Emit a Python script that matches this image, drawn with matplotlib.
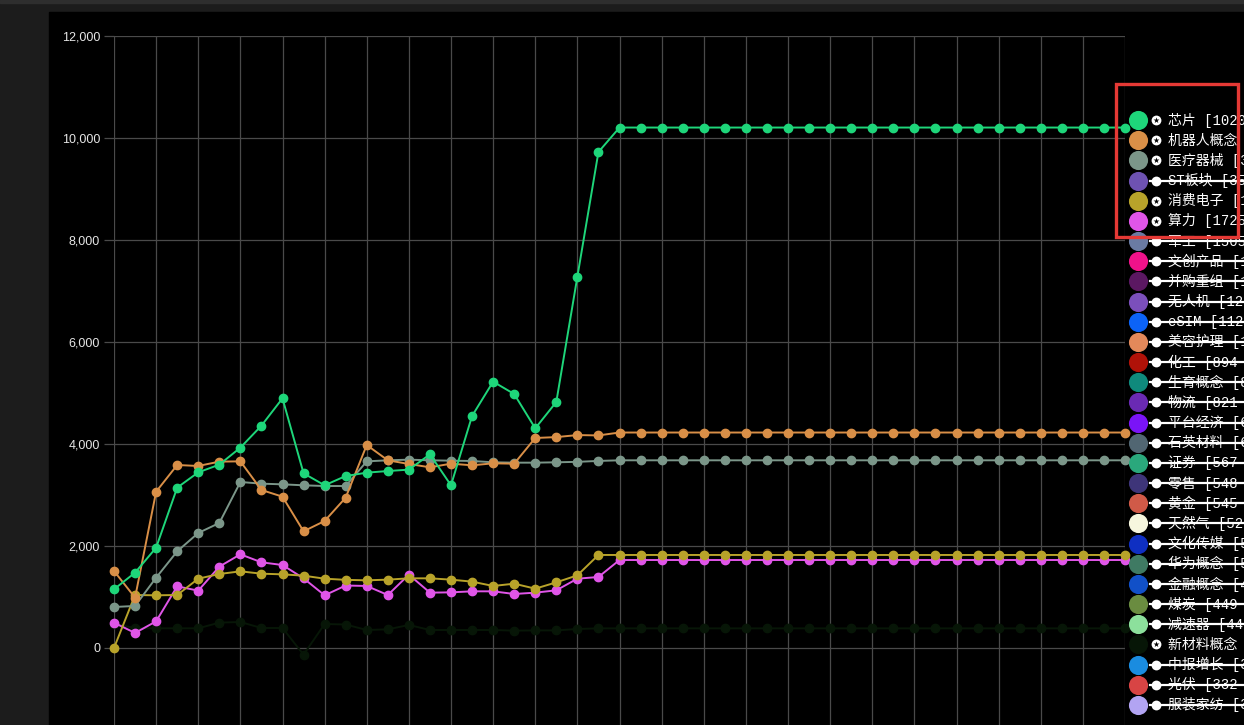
import numpy as np
import matplotlib
matplotlib.use("Agg")
import matplotlib.pyplot as plt
from matplotlib.patches import Rectangle

# plotted series (visible in the legend)
chip = [1151, 1477, 1967, 3144, 3444, 3595, 3928, 4360, 4895, 3425, 3190, 3372,
        3438, 3470, 3497, 3797, 3190, 4549, 5222, 4980, 4307, 4824, 7281, 9725] + [10205] * 25
robot = [1510, 987, 3065, 3588, 3569, 3654, 3660, 3098, 2967, 2288, 2490, 2948,
         3980, 3680, 3608, 3543, 3614, 3582, 3621, 3614, 4118, 4135, 4175, 4168] + [4225] * 25
medical = [804, 824, 1379, 1895, 2255, 2451, 3255, 3222, 3209, 3190, 3176, 3176,
           3660, 3680, 3693, 3680, 3673, 3667, 3641, 3634, 3634, 3641, 3650, 3668] + [3680] * 25
consumer = [0, 1039, 1033, 1039, 1359, 1451, 1503, 1457, 1444, 1418, 1359, 1336,
            1327, 1340, 1366, 1366, 1340, 1301, 1216, 1261, 1163, 1287, 1425] + [1824] * 26
compute = [497, 294, 523, 1209, 1124, 1595, 1837, 1680, 1627, 1366, 1033, 1225,
           1216, 1039, 1438, 1085, 1091, 1111, 1111, 1059, 1085, 1131, 1359, 1392] + [1725] * 25
newmat = [480, 386, 386, 386, 386, 497, 510, 392, 392, -131, 471, 460,
          353, 366, 451, 353, 353, 353, 353, 340, 345, 345, 373] + [385] * 26

plotted = {
    "芯片": (chip, "#1ed67a"),
    "机器人概念": (robot, "#d98f47"),
    "医疗器械": (medical, "#7b9689"),
    "消费电子": (consumer, "#b8a32a"),
    "算力": (compute, "#e055e8"),
    "新材料概念": (newmat, "#071607"),
}

# legend entries
names = ["芯片", "机器人概念", "医疗器械", "ST板块", "消费电子", "算力", "军工", "文创产品",
         "并购重组", "无人机", "eSIM", "美容护理", "化工", "生育概念", "物流", "平台经济",
         "石英材料", "证券", "零售", "黄金", "天然气", "文化传媒", "华为概念", "金融概念",
         "煤炭", "减速器", "新材料概念", "中报增长", "光伏", "服装家纺"]
counts = [10205, 4225, 3680, 3508, 1824, 1725, 1505, 1414, 1401, 1290, 1127, 1043,
          894, 832, 821, 633, 604, 567, 548, 545, 525, 507, 505, 496,
          449, 442, 385, 340, 332, 303]
colors = ["#1ed67a", "#d98f47", "#7b9689", "#6e52b2", "#b8a32a", "#e055e8", "#6a7ba3", "#f0128a",
          "#5b1862", "#7b4fbb", "#0c63f7", "#e3895a", "#b01208", "#0f8a7c", "#6a2ab3", "#7a14f7",
          "#516672", "#2aa87c", "#3e3579", "#d05a48", "#f6f6de", "#0f2fc2", "#3f7a63", "#1150c8",
          "#6a8c40", "#8ce09c", "#071607", "#1a8ce0", "#d84444", "#b2a4f2"]

W, H = 1244, 725
fig = plt.figure(figsize=(W / 100, H / 100), dpi=100, facecolor="#1c1c1c")
fig.patches.append(Rectangle((0, 1 - 3 / H), 1, 3 / H, transform=fig.transFigure,
                             color="#2e2e2e", zorder=-2))
fig.patches.append(Rectangle((49 / W, 0), 1, 1 - 12 / H, transform=fig.transFigure,
                             color="#000000", zorder=-1))

ax = fig.add_axes([114 / W, 0, (1125 - 114) / W, (H - 36) / H])
ax.set_facecolor("none")
x = np.arange(len(chip))
n = len(plotted)
for k, (name, (vals, c)) in enumerate(plotted.items()):
    ax.plot(x, vals, color=c, lw=1.4, marker="o", ms=6, mec=c, mfc=c,
            zorder=10 + n - k, clip_on=False)

ax.set_xlim(0, 48)
ax.set_ylim(-1510, 12000)
ax.set_xticks(range(0, 49, 2))
ax.set_yticks(range(0, 12001, 2000))
ax.set_yticklabels([f"{v:,}" for v in range(0, 12001, 2000)])
ax.grid(True, color="#4a4a4a", lw=0.9)
ax.tick_params(axis="x", length=0, labelbottom=False)
ax.tick_params(axis="y", length=7, width=0.9, color="#4a4a4a", labelcolor="#e6e6e6",
               labelsize=9, pad=3)
for lab in ax.get_yticklabels():
    lab.set_fontfamily("Liberation Sans")
for s in ax.spines.values():
    s.set_visible(False)

# legend overlay in pixel coordinates
lax = fig.add_axes([0, 0, 1, 1])
lax.set_xlim(0, W)
lax.set_ylim(H, 0)
lax.axis("off")
lax.set_facecolor("none")
ys = 120 + 20.17 * np.arange(len(names))
for name, cnt, c, y in zip(names, counts, colors, ys):
    shown = name in plotted
    lax.scatter([1138], [y], s=190, color=c, lw=0, zorder=3)
    lax.scatter([1156], [y], s=50, color="white", lw=0, zorder=4)
    if shown:
        lax.scatter([1156], [y], s=20, marker="*", color="black", lw=0, zorder=5)
    else:
        lax.plot([1153, 1159], [y, y], color="black", lw=1.4, zorder=5)
    lax.text(1168, y, f"{name} [{cnt} 涨停]", color="white", fontsize=10,
             va="center", ha="left", family=["Liberation Mono", "Noto Sans CJK SC"], zorder=4)
    if not shown:
        lax.plot([1150, W], [y, y], color="white", lw=1.6, zorder=6)

lax.add_patch(Rectangle((1116, 84), 122, 153, fill=False, ec="#e53935", lw=2.4, zorder=7))

fig.savefig("out.png", dpi=100, facecolor=fig.get_facecolor())
